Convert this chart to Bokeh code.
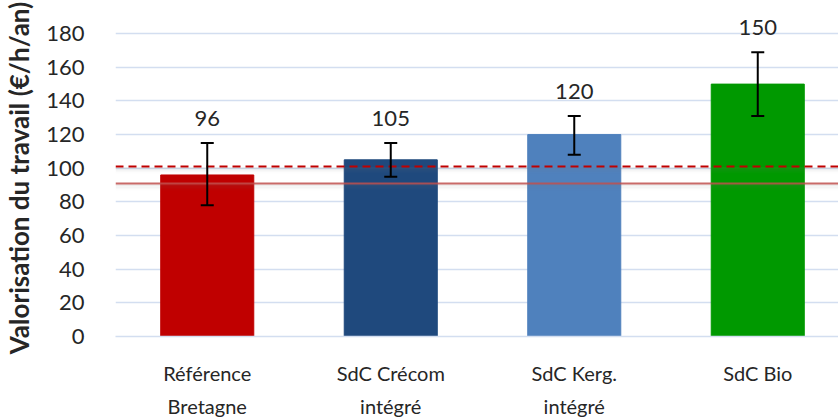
import numpy as np
from bokeh.plotting import figure
from bokeh.models import ColumnDataSource, Whisker, TeeHead, Span, Range1d, FixedTicker
from bokeh.embed import file_html
from bokeh.resources import INLINE
from bokeh.core.properties import value

categories = ["Référence\nBretagne", "SdC Crécom\nintégré", "SdC Kerg.\nintégré", "SdC Bio"]
values = [96, 105, 120, 150]
err_low = [78, 95, 108, 131]
err_high = [115, 115, 131, 169]
colors = ["#C00000", "#1F497D", "#4F81BD", "#009900"]
ref_dashed = 101
ref_solid = 91
y_ticks = [0, 20, 40, 60, 80, 100, 120, 140, 160, 180]

xs = list(range(len(categories)))
src = ColumnDataSource(dict(x=xs, top=values, lo=err_low, hi=err_high, color=colors,
                            lab=[str(v) for v in values]))

FONT = "Lato"
TXT = "#262626"
p = figure(frame_width=723, frame_height=317, output_backend="svg", toolbar_location=None,
           x_range=Range1d(-0.5, 3.44), y_range=Range1d(0, 188.4),
           min_border_left=107, min_border_right=0, min_border_top=19, min_border_bottom=75)
p.outline_line_color = None
p.background_fill_color = "white"

p.vbar(x="x", top="top", width=0.507, color="color", source=src)

# reference lines with a soft shadow
for k, a in enumerate([0.10, 0.07, 0.045, 0.02]):
    for ref in (ref_dashed, ref_solid):
        p.add_layout(Span(location=ref - 0.9 * (k + 1), dimension="width", level="overlay",
                          line_color="#808080", line_alpha=a, line_width=2))
p.add_layout(Span(location=ref_dashed, dimension="width", line_color="#C00000", level="overlay",
                  line_width=2, line_dash="8 5"))
p.add_layout(Span(location=ref_solid, dimension="width", line_color="#C0504D", level="overlay",
                  line_alpha=0.85, line_width=2))

w = Whisker(source=src, base="x", upper="hi", lower="lo", line_color="black", line_width=2,
            level="overlay",
            upper_head=TeeHead(size=13, line_color="black", line_width=2),
            lower_head=TeeHead(size=13, line_color="black", line_width=2))
p.add_layout(w)

p.text(x="x", y="hi", text="lab", source=src, text_align="center", text_baseline="middle",
       y_offset=-25, text_font=value(FONT), text_font_size="22px", text_color=TXT)

p.xgrid.visible = False
p.ygrid.grid_line_color = "#D3DEF0"
p.ygrid.grid_line_width = 1.5
p.ygrid.ticker = FixedTicker(ticks=y_ticks)

p.yaxis.ticker = FixedTicker(ticks=y_ticks)
p.yaxis.axis_line_color = None
p.yaxis.major_tick_line_color = None
p.yaxis.minor_tick_line_color = None
p.yaxis.major_label_text_font = FONT
p.yaxis.major_label_text_font_size = "22px"
p.yaxis.major_label_text_color = TXT
p.yaxis.major_label_standoff = 25
p.yaxis.axis_label = "Valorisation du travail (€/h/an)"
p.yaxis.axis_label_text_font = FONT
p.yaxis.axis_label_text_font_style = "bold"
p.yaxis.axis_label_text_font_size = "26px"
p.yaxis.axis_label_text_color = TXT
p.yaxis.axis_label_standoff = 8

p.xaxis.ticker = FixedTicker(ticks=xs)
p.xaxis.major_label_overrides = {i: c for i, c in enumerate(categories)}
p.xaxis.axis_line_color = "#D3DEF0"
p.xaxis.axis_line_width = 1.5
p.xaxis.major_tick_line_color = None
p.xaxis.minor_tick_line_color = None
p.xaxis.major_label_text_font = FONT
p.xaxis.major_label_text_font_size = "20px"
p.xaxis.major_label_text_color = TXT
p.xaxis.major_label_standoff = 18
p.xaxis.major_label_text_line_height = 1.4

open("out.html", "w").write(file_html(p, INLINE))
